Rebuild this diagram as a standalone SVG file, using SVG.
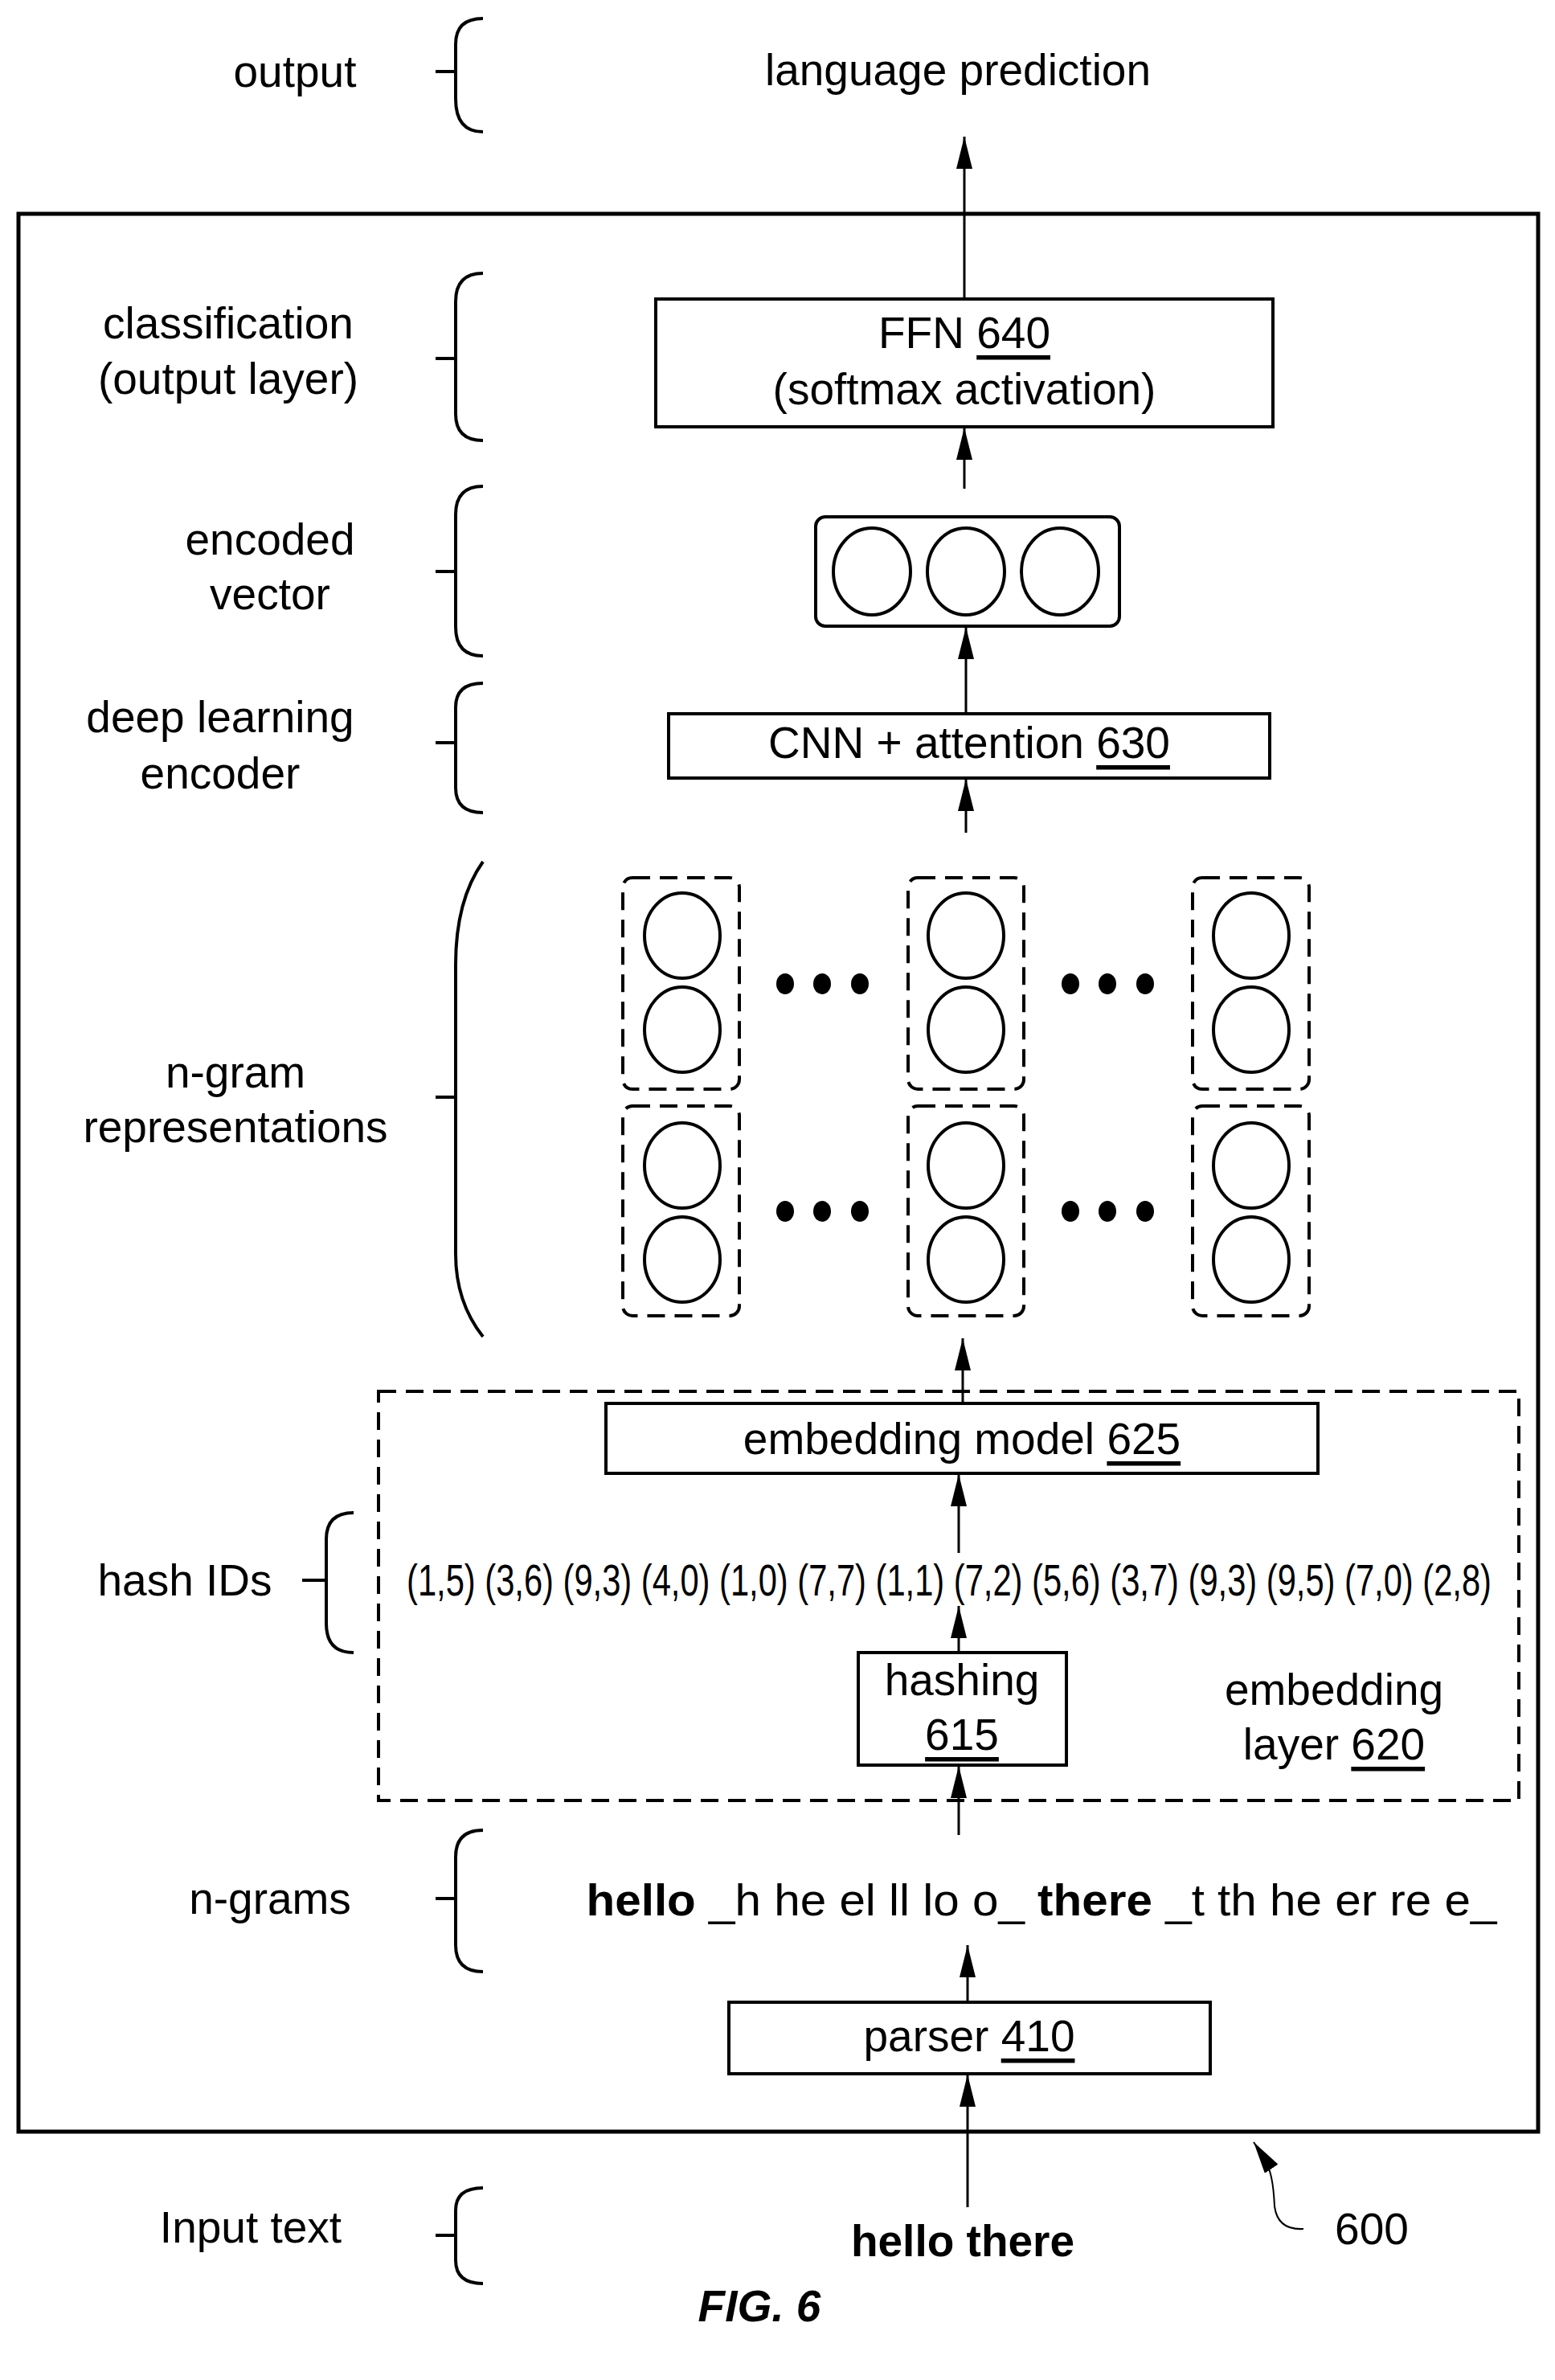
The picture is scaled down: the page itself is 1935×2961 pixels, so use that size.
<svg xmlns="http://www.w3.org/2000/svg" width="1935" height="2961" viewBox="0 0 1935 2961">
<style>
text{font-family:"Liberation Sans",Arial,sans-serif;font-size:55px;fill:#000;text-anchor:middle;dominant-baseline:central}
.b{font-weight:bold}
.box{fill:#fff;stroke:#000;stroke-width:4}
.dash{fill:none;stroke:#000;stroke-width:4;stroke-dasharray:22 12}
.c{fill:none;stroke:#000;stroke-width:4}
.ln{fill:none;stroke:#000;stroke-width:3}
.br{fill:none;stroke:#000;stroke-width:4}
</style>
<defs>
<marker id="a" viewBox="0 0 40 20" refX="40" refY="10" markerWidth="40" markerHeight="20" markerUnits="userSpaceOnUse" orient="auto"><path d="M0,0 L40,10 L0,20 Z" fill="#000"/></marker></defs>
<rect x="23" y="266" width="1891" height="2386" fill="none" stroke="#000" stroke-width="5"/>
<g id="braces">
<path class="br" d="M542,89 H567 M601,23 Q567,23 567,55 V123 Q567,164 601,164"/>
<path class="br" d="M542,446 H567 M601,340 Q567,340 567,375 V515 Q567,548 601,548"/>
<path class="br" d="M542,711 H567 M601,605 Q567,605 567,640 V780 Q567,816 601,816"/>
<path class="br" d="M542,924 H567 M601,850 Q567,850 567,880 V980 Q567,1011 601,1011"/>
<path class="br" d="M542,1365 H567 M601,1072 Q567,1120 567,1200 V1560 Q567,1620 601,1663"/>
<path class="br" d="M376,1966 H406 M440,1882 Q406,1882 406,1915 V2020 Q406,2056 440,2056"/>
<path class="br" d="M542,2362 H567 M601,2277 Q567,2277 567,2310 V2420 Q567,2453 601,2453"/>
<path class="br" d="M542,2781 H567 M601,2722 Q567,2722 567,2750 V2812 Q567,2841 601,2841"/>
</g>
<g id="labels">
<text x="367" y="89">output</text>
<text x="284" y="402">classification</text>
<text x="284" y="471">(output layer)</text>
<text x="336" y="671">encoded</text>
<text x="336" y="739">vector</text>
<text x="274" y="892">deep learning</text>
<text x="274" y="962">encoder</text>
<text x="293" y="1334">n-gram</text>
<text x="293" y="1402">representations</text>
<text x="230" y="1966">hash IDs</text>
<text x="336" y="2362">n-grams</text>
<text x="312" y="2771">Input text</text>
</g>
<g id="connectors">
<line class="ln" x1="1200" y1="372" x2="1200" y2="170" marker-end="url(#a)"/>
<line class="ln" x1="1200" y1="608" x2="1200" y2="532" marker-end="url(#a)"/>
<line class="ln" x1="1202" y1="888" x2="1202" y2="780" marker-end="url(#a)"/>
<line class="ln" x1="1202" y1="1036" x2="1202" y2="969" marker-end="url(#a)"/>
<line class="ln" x1="1198" y1="1746" x2="1198" y2="1665" marker-end="url(#a)"/>
<line class="ln" x1="1193" y1="1932" x2="1193" y2="1834" marker-end="url(#a)"/>
<line class="ln" x1="1193" y1="2056" x2="1193" y2="1998" marker-end="url(#a)"/>
<line class="ln" x1="1193" y1="2283" x2="1193" y2="2197" marker-end="url(#a)"/>
<line class="ln" x1="1204" y1="2491" x2="1204" y2="2420" marker-end="url(#a)"/>
<line class="ln" x1="1204" y1="2746" x2="1204" y2="2581" marker-end="url(#a)"/>
<path d="M1622,2773 Q1590,2775 1586,2745 Q1584,2700 1574,2690 Q1570,2680 1560,2665" fill="none" stroke="#000" stroke-width="2" marker-end="url(#a)"/>
</g>
<text x="1192" y="87">language prediction</text>
<g id="ffn"><rect class="box" x="816" y="372" width="768" height="159"/>
<text x="1200" y="414">FFN <tspan text-decoration="underline">640</tspan></text>
<text x="1200" y="484">(softmax activation)</text></g>
<g id="encoded"><rect class="box" x="1015" y="643" width="378" height="136" rx="12"/>
<ellipse class="c" cx="1085" cy="711" rx="48" ry="54"/><ellipse class="c" cx="1202" cy="711" rx="48" ry="54"/><ellipse class="c" cx="1319" cy="711" rx="48" ry="54"/></g>
<g id="cnn"><rect class="box" x="832" y="888" width="748" height="80"/>
<text x="1206" y="924">CNN + attention <tspan text-decoration="underline">630</tspan></text></g>
<g id="ngramreps">
<rect class="dash" x="775" y="1092" width="145" height="263" rx="12"/>
<rect class="dash" x="1130" y="1092" width="144" height="263" rx="12"/>
<rect class="dash" x="1484" y="1092" width="145" height="263" rx="12"/>
<rect class="dash" x="775" y="1376" width="145" height="261" rx="12"/>
<rect class="dash" x="1130" y="1376" width="144" height="261" rx="12"/>
<rect class="dash" x="1484" y="1376" width="145" height="261" rx="12"/>
<g class="c">
<ellipse cx="849" cy="1164" rx="47" ry="53"/><ellipse cx="849" cy="1281" rx="47" ry="53"/><ellipse cx="849" cy="1450" rx="47" ry="53"/><ellipse cx="849" cy="1567" rx="47" ry="53"/>
<ellipse cx="1202" cy="1164" rx="47" ry="53"/><ellipse cx="1202" cy="1281" rx="47" ry="53"/><ellipse cx="1202" cy="1450" rx="47" ry="53"/><ellipse cx="1202" cy="1567" rx="47" ry="53"/>
<ellipse cx="1557" cy="1164" rx="47" ry="53"/><ellipse cx="1557" cy="1281" rx="47" ry="53"/><ellipse cx="1557" cy="1450" rx="47" ry="53"/><ellipse cx="1557" cy="1567" rx="47" ry="53"/>
</g>
<g fill="#000">
<ellipse cx="977" cy="1224" rx="11" ry="13"/><ellipse cx="1023" cy="1224" rx="11" ry="13"/><ellipse cx="1070" cy="1224" rx="11" ry="13"/>
<ellipse cx="1332" cy="1224" rx="11" ry="13"/><ellipse cx="1378" cy="1224" rx="11" ry="13"/><ellipse cx="1425" cy="1224" rx="11" ry="13"/>
<ellipse cx="977" cy="1507" rx="11" ry="13"/><ellipse cx="1023" cy="1507" rx="11" ry="13"/><ellipse cx="1070" cy="1507" rx="11" ry="13"/>
<ellipse cx="1332" cy="1507" rx="11" ry="13"/><ellipse cx="1378" cy="1507" rx="11" ry="13"/><ellipse cx="1425" cy="1507" rx="11" ry="13"/>
</g></g>
<g id="embeddinglayer"><rect class="dash" x="471" y="1731" width="1419" height="509"/>
<text x="1660" y="2102">embedding</text>
<text x="1660" y="2170">layer <tspan text-decoration="underline">620</tspan></text></g>
<g id="embeddingmodel"><rect class="box" x="754" y="1746" width="886" height="87"/>
<text x="1197" y="1790">embedding model <tspan text-decoration="underline">625</tspan></text></g>
<g id="hashids"><text x="1181" y="1966" font-size="38" textLength="1350" lengthAdjust="spacingAndGlyphs">(1,5) (3,6) (9,3) (4,0) (1,0) (7,7) (1,1) (7,2) (5,6) (3,7) (9,3) (9,5) (7,0) (2,8)</text></g>
<g id="hashing"><rect class="box" x="1068" y="2056" width="259" height="140"/>
<text x="1197" y="2090">hashing</text>
<text x="1197" y="2158" text-decoration="underline">615</text></g>
<g id="ngrams"><text x="1296" y="2364" textLength="1133" lengthAdjust="spacingAndGlyphs"><tspan class="b">hello</tspan> _h he el ll lo o_ <tspan class="b">there</tspan> _t th he er re e_</text></g>
<g id="parser"><rect class="box" x="907" y="2491" width="599" height="89"/>
<text x="1206" y="2533">parser <tspan text-decoration="underline">410</tspan></text></g>
<g id="input"><text class="b" x="1198" y="2788" font-size="56">hello there</text></g>
<text x="1707" y="2773">600</text>
<text x="945" y="2869" font-weight="bold" font-style="italic">FIG. 6</text>
</svg>
